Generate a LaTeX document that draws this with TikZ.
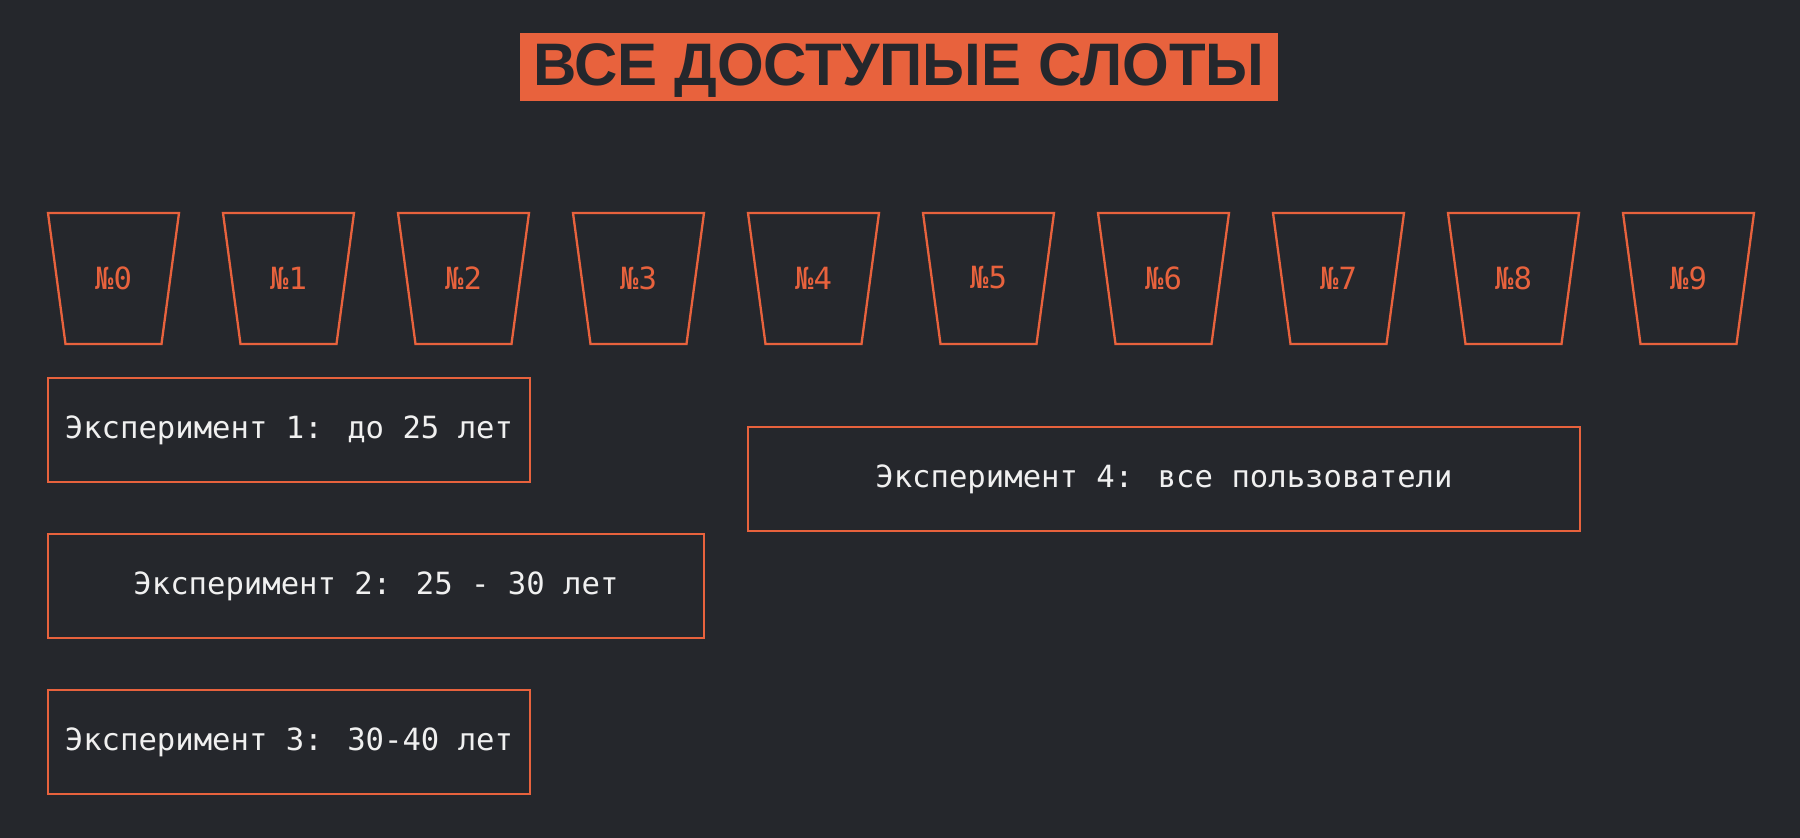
\documentclass[tikz,border=0pt]{standalone}
\usepackage{fontspec}
\newfontfamily\monof{DejaVu Sans Mono}
\newfontfamily\titlef{Liberation Sans}
\definecolor{bgc}{RGB}{37,39,44}
\definecolor{orng}{RGB}{232,98,61}
\definecolor{txtc}{RGB}{240,240,240}
\tikzset{
  slotshape/.style={draw=orng, line width=1.15pt, line join=miter},
  slotlabel/.style={text=orng, font=\monof\fontsize{15.3}{18}\selectfont, inner sep=0pt},
  expbox/.style={draw=orng, line width=1.15pt, text=txtc, font=\monof\fontsize{15.3}{18}\selectfont, minimum height=52pt, inner sep=0pt},
  titlebox/.style={fill=orng, minimum width=379pt, minimum height=34pt, inner sep=0pt},
  titletext/.style={text=bgc, font=\titlef\bfseries\fontsize{30}{36}\selectfont, inner sep=0pt, anchor=base}
}
\begin{document}
\begin{tikzpicture}[x=0.5pt,y=-0.5pt]
\fill[bgc] (0,0) rectangle (1800,838);
\useasboundingbox (0,0) rectangle (1800,838);
\node[titlebox] (title) at (899,67) {};
\node[titletext] (titlelabel) at (899,86) {ВСЕ ДОСТУПЫЕ СЛОТЫ};
\foreach \i in {0,...,9}{
  \pgfmathsetmacro{\xl}{48+175*\i}
  \draw[slotshape] (\xl,213) -- ++(131,0) -- ++(-17.5,131) -- ++(-96,0) -- cycle;
  \node[slotlabel] (slot\i) at (\xl+65.5,278) {№\i};
}
\node[expbox, minimum width=241pt] (e1) at (289,430) {Эксперимент 1: до 25 лет};
\node[expbox, minimum width=328pt] (e2) at (376,586) {Эксперимент 2: 25 - 30 лет};
\node[expbox, minimum width=241pt] (e3) at (289,742) {Эксперимент 3: 30-40 лет};
\node[expbox, minimum width=416pt] (e4) at (1164,479) {Эксперимент 4: все пользователи};
\end{tikzpicture}
\end{document}
